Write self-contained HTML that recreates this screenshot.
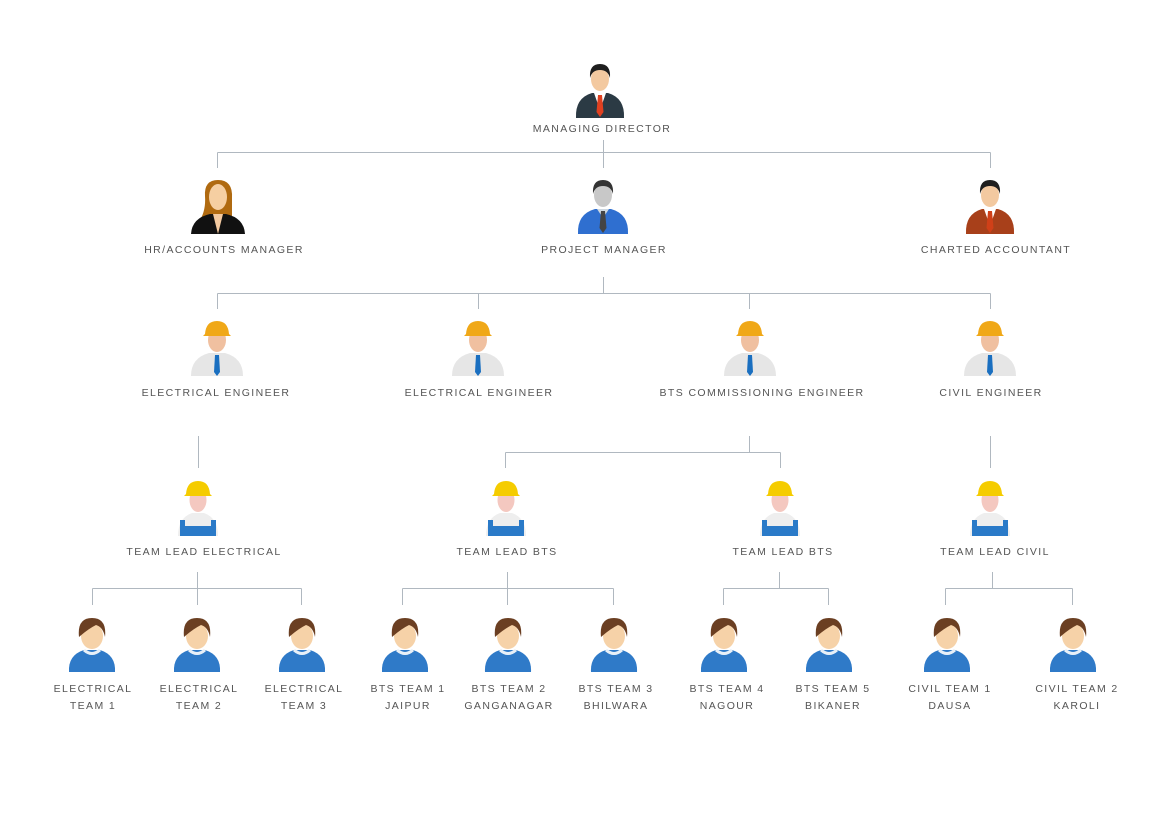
<!DOCTYPE html>
<html><head><meta charset="utf-8"><style>
html,body{margin:0;padding:0;background:#fff;}
svg{display:block}
text{font-family:"Liberation Sans",sans-serif;font-size:10.5px;fill:#555;letter-spacing:1.4px;text-anchor:middle}
</style></head><body>
<svg width="1170" height="820" viewBox="0 0 1170 820" xmlns="http://www.w3.org/2000/svg">
<defs>
<symbol id="md" viewBox="-28 0 56 58" overflow="visible">
<path d="M-24,56 Q-25,36 -8,31 L8,31 Q25,36 24,56 Z" fill="#2b3a44"/>
<path d="M-6,31 L0,48 L6,31Z" fill="#fff"/>
<path d="M-2,33 L2,33 L3.5,50 L0,55 L-3.5,50Z" fill="#e04020"/>
<ellipse cx="0" cy="17" rx="9" ry="12" fill="#f3c9a0"/>
<path d="M-10,16 Q-11,2 0,2 Q11,2 10,16 Q8,8 0,8 Q-8,8 -10,16Z" fill="#1e1e1e"/>
</symbol>
<symbol id="pm" viewBox="-28 0 56 58" overflow="visible">
<path d="M-25,56 Q-26,36 -8,31 L8,31 Q26,36 25,56 Z" fill="#2f6fd0"/>
<path d="M-6,31 L0,40 L6,31Z" fill="#cfd8e0"/>
<path d="M-2,33 L2,33 L3.5,50 L0,55 L-3.5,50Z" fill="#444"/>
<ellipse cx="0" cy="17" rx="9" ry="12" fill="#c8c8c8"/>
<path d="M-10,16 Q-11,2 0,2 Q11,2 10,16 Q8,8 0,8 Q-8,8 -10,16Z" fill="#333"/>
</symbol>
<symbol id="ca" viewBox="-28 0 56 58" overflow="visible">
<path d="M-24,56 Q-25,36 -8,31 L8,31 Q25,36 24,56 Z" fill="#a8401a"/>
<path d="M-6,31 L0,48 L6,31Z" fill="#fff"/>
<path d="M-2,33 L2,33 L3.5,50 L0,55 L-3.5,50Z" fill="#d04018"/>
<ellipse cx="0" cy="17" rx="9" ry="12" fill="#f3c9a0"/>
<path d="M-10,16 Q-11,2 0,2 Q11,2 10,16 Q8,8 0,8 Q-8,8 -10,16Z" fill="#1e1e1e"/>
</symbol>
<symbol id="hr" viewBox="-28 0 56 58" overflow="visible">
<path d="M-13,18 Q-14,2 0,2 Q15,2 14,20 L14,40 L-18,42 Q-12,32 -13,18Z" fill="#b06a10"/>
<path d="M-27,56 Q-26,40 -8,36 L8,36 Q26,40 27,56 Z" fill="#111"/>
<path d="M-5,36 L0,56 L5,36Z" fill="#f3c9a0"/>
<ellipse cx="0" cy="19" rx="9" ry="13" fill="#f6cfa2"/>
</symbol>
<symbol id="eng" viewBox="-28 0 56 58" overflow="visible">
<path d="M-26,56 Q-26,38 -8,33 L8,33 Q26,38 26,56 Z" fill="#e6e6e6"/>
<path d="M-2,35 L2,35 L3,52 L0,56 L-3,52Z" fill="#1a6fc0"/>
<ellipse cx="0" cy="20" rx="9" ry="12" fill="#f0c0a0"/>
<path d="M-12,14 Q-11,1 0,1 Q11,1 12,14 L14,16 L-14,16Z" fill="#f0a818"/>
</symbol>
<symbol id="lead" viewBox="-28 0 56 58" overflow="visible">
<path d="M-20,56 Q-20,38 -6,33 L6,33 Q20,38 20,56 Z" fill="#eee"/>
<path d="M-18,56 L-18,40 L-13,40 L-13,46 L13,46 L13,40 L18,40 L18,56Z" fill="#2a7ac8"/>
<ellipse cx="0" cy="20" rx="8.5" ry="12" fill="#f4c8c0"/>
<path d="M-12,14 Q-11,1 0,1 Q11,1 12,14 L14,16 L-14,16Z" fill="#f5cc00"/>
</symbol>
<symbol id="team" viewBox="-28 0 56 58" overflow="visible">
<path d="M-23,57 Q-24,40 -8,35 L8,35 Q24,40 23,57 Z" fill="#2f7ac8"/>
<path d="M-8,35 Q0,42 8,35" stroke="#e8f0f8" stroke-width="3" fill="none"/>
<ellipse cx="0" cy="21" rx="11" ry="13" fill="#f6d2a8"/>
<path d="M-13,22 Q-15,3 0,3 Q15,3 13,22 Q11,12 4,10 Q-4,14 -13,22Z" fill="#6b3f22"/>
</symbol>
</defs>
<g stroke="#b0b8c0" stroke-width="1" fill="none">
<path d="M217.5,152.5H990.5 M217.5,152.5V168 M603.5,140V168 M990.5,152.5V168"/>
<path d="M603.5,277V293.5 M217.5,293.5H990.5 M217.5,293.5V309 M478.5,293.5V309 M749.5,293.5V309 M990.5,293.5V309"/>
<path d="M198.5,436V468 M749.5,436V452.5 M505.5,452.5H780.5 M505.5,452.5V468 M780.5,452.5V468 M990.5,436V468"/>
<path d="M197.5,572V605 M92.5,588.5H301.5 M92.5,588.5V605 M301.5,588.5V605"/>
<path d="M507.5,572V605 M402.5,588.5H613.5 M402.5,588.5V605 M613.5,588.5V605"/>
<path d="M779.5,572V588.5 M723.5,588.5H828.5 M723.5,588.5V605 M828.5,588.5V605"/>
<path d="M992.5,572V588.5 M945.5,588.5H1072.5 M945.5,588.5V605 M1072.5,588.5V605"/>
</g>
<use href="#md" x="572" y="62" width="56" height="58"/>
<use href="#hr" x="190" y="178" width="56" height="58"/>
<use href="#pm" x="575" y="178" width="56" height="58"/>
<use href="#ca" x="962" y="178" width="56" height="58"/>
<use href="#eng" x="189" y="320" width="56" height="58"/>
<use href="#eng" x="450" y="320" width="56" height="58"/>
<use href="#eng" x="722" y="320" width="56" height="58"/>
<use href="#eng" x="962" y="320" width="56" height="58"/>
<use href="#lead" x="170" y="480" width="56" height="58"/>
<use href="#lead" x="478" y="480" width="56" height="58"/>
<use href="#lead" x="752" y="480" width="56" height="58"/>
<use href="#lead" x="962" y="480" width="56" height="58"/>
<use href="#team" x="64" y="615" width="56" height="58"/>
<use href="#team" x="169" y="615" width="56" height="58"/>
<use href="#team" x="274" y="615" width="56" height="58"/>
<use href="#team" x="377" y="615" width="56" height="58"/>
<use href="#team" x="480" y="615" width="56" height="58"/>
<use href="#team" x="586" y="615" width="56" height="58"/>
<use href="#team" x="696" y="615" width="56" height="58"/>
<use href="#team" x="801" y="615" width="56" height="58"/>
<use href="#team" x="919" y="615" width="56" height="58"/>
<use href="#team" x="1045" y="615" width="56" height="58"/>
<text x="602" y="132">MANAGING DIRECTOR</text>
<text x="224" y="253">HR/ACCOUNTS MANAGER</text>
<text x="604" y="253">PROJECT MANAGER</text>
<text x="996" y="253">CHARTED ACCOUNTANT</text>
<text x="216" y="396">ELECTRICAL ENGINEER</text>
<text x="479" y="396">ELECTRICAL ENGINEER</text>
<text x="762" y="396">BTS COMMISSIONING ENGINEER</text>
<text x="991" y="396">CIVIL ENGINEER</text>
<text x="204" y="555">TEAM LEAD ELECTRICAL</text>
<text x="507" y="555">TEAM LEAD BTS</text>
<text x="783" y="555">TEAM LEAD BTS</text>
<text x="995" y="555">TEAM LEAD CIVIL</text>
<text x="93" y="692">ELECTRICAL</text><text x="93" y="709">TEAM 1</text>
<text x="199" y="692">ELECTRICAL</text><text x="199" y="709">TEAM 2</text>
<text x="304" y="692">ELECTRICAL</text><text x="304" y="709">TEAM 3</text>
<text x="408" y="692">BTS TEAM 1</text><text x="408" y="709">JAIPUR</text>
<text x="509" y="692">BTS TEAM 2</text><text x="509" y="709">GANGANAGAR</text>
<text x="616" y="692">BTS TEAM 3</text><text x="616" y="709">BHILWARA</text>
<text x="727" y="692">BTS TEAM 4</text><text x="727" y="709">NAGOUR</text>
<text x="833" y="692">BTS TEAM 5</text><text x="833" y="709">BIKANER</text>
<text x="950" y="692">CIVIL TEAM 1</text><text x="950" y="709">DAUSA</text>
<text x="1077" y="692">CIVIL TEAM 2</text><text x="1077" y="709">KAROLI</text>
</svg>
</body></html>
